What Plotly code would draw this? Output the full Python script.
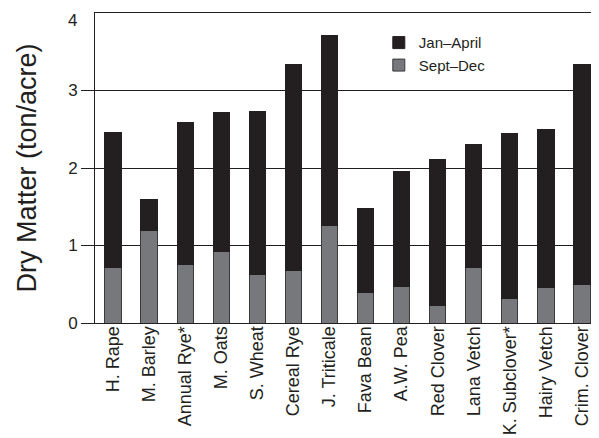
import plotly.graph_objects as go

categories = ["H. Rape", "M. Barley", "Annual Rye*", "M. Oats", "S. Wheat", "Cereal Rye",
              "J. Triticale", "Fava Bean", "A.W. Pea", "Red Clover", "Lana Vetch",
              "K. Subclover*", "Hairy Vetch", "Crim. Clover"]
sept_dec = [0.71, 1.19, 0.76, 0.92, 0.63, 0.68, 1.26, 0.39, 0.47, 0.22, 0.71, 0.32, 0.46, 0.50]
totals = [2.455, 1.596, 2.59, 2.72, 2.73, 3.34, 3.71, 1.48, 1.95, 2.11, 2.30, 2.44, 2.50, 3.34]
jan_april = [round(t - s, 3) for t, s in zip(totals, sept_dec)]
y_ticks = [0, 1, 2, 3, 4]

FONT = "Liberation Sans, Arial, sans-serif"

fig = go.Figure()
fig.add_trace(go.Bar(x=categories, y=sept_dec, name="Sept\u2013Dec",
                     marker=dict(color="#77787b", line=dict(color="#3a3a3c", width=1))))
fig.add_trace(go.Bar(x=categories, y=jan_april, name="Jan\u2013April",
                     marker=dict(color="#231f20", line=dict(color="#231f20", width=1))))

# top tick label (no tick mark at the top in the original)
fig.add_annotation(text=str(y_ticks[-1]), xref="paper", yref="y", x=0, y=y_ticks[-1],
                   xanchor="right", yanchor="top", xshift=-16, yshift=4,
                   showarrow=False, font=dict(size=17, family=FONT, color="#231f20"))

fig.update_layout(
    width=599, height=438,
    margin=dict(l=87, r=7, t=5, b=123),
    barmode="stack", bargap=0.55,
    plot_bgcolor="white", paper_bgcolor="white",
    font=dict(family=FONT, color="#231f20"),
    showlegend=True,
    legend=dict(x=0.562, y=0.957, xanchor="left", yanchor="top",
                traceorder="reversed", font=dict(size=15, family=FONT),
                bgcolor="rgba(0,0,0,0)", itemwidth=30, tracegroupgap=0),
    xaxis=dict(showline=True, linecolor="#231f20", linewidth=1, mirror=True,
               ticks="", tickangle=-90, tickfont=dict(size=18, family=FONT),
               ticklabelstandoff=-5),
    yaxis=dict(range=[0, 4], tickvals=y_ticks[:-1], showgrid=True, gridcolor="#231f20",
               gridwidth=1, showline=True, linecolor="#231f20", linewidth=1,
               ticks="outside", ticklen=13, tickcolor="#231f20", zeroline=False,
               tickfont=dict(size=17, family=FONT),
               title=dict(text="Dry Matter (ton/acre)", font=dict(size=27, family=FONT),
                          standoff=23)),
)

fig.write_html("out.html")
